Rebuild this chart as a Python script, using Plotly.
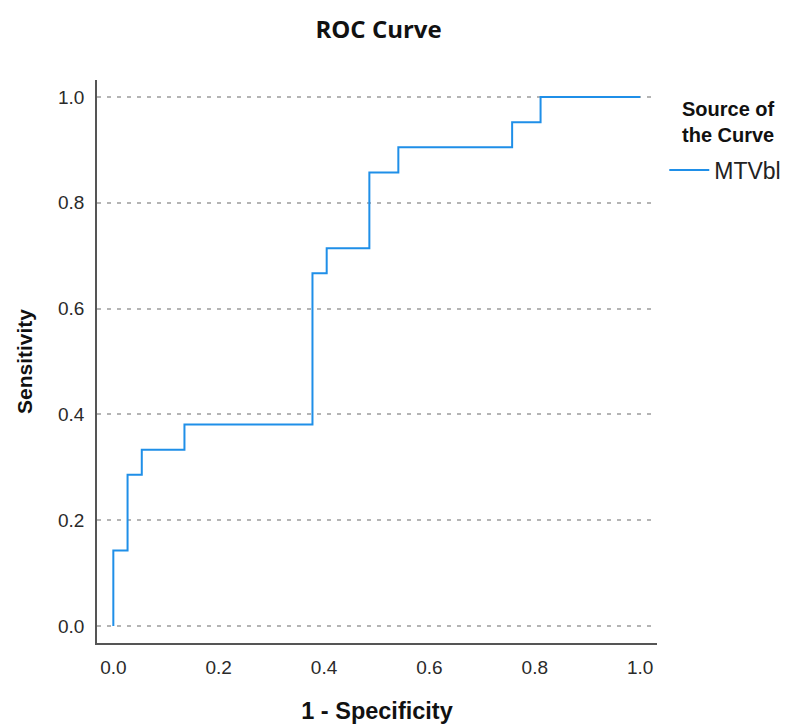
import plotly.graph_objects as go

# ROC curve corner points (1 - Specificity, Sensitivity)
fpr = [0.0, 0.0, 0.027, 0.054, 0.135, 0.378, 0.405, 0.486, 0.541, 0.757, 0.811, 1.0]
tpr = [0.0, 0.143, 0.286, 0.333, 0.381, 0.667, 0.714, 0.857, 0.905, 0.952, 1.0, 1.0]
series_name = "MTVbl"
tick_vals = [0.0, 0.2, 0.4, 0.6, 0.8, 1.0]
tick_text = ["0.0", "0.2", "0.4", "0.6", "0.8", "1.0"]

fig = go.Figure()
fig.add_trace(go.Scatter(
    x=fpr, y=tpr, mode="lines", line_shape="hv", name=series_name,
    line=dict(color="#1f8fe8", width=2),
))

axis_font = dict(family="Liberation Sans, Arial, sans-serif", size=19, color="#2a2a2a")

fig.update_layout(
    width=787, height=724,
    margin=dict(l=97, r=130, t=80, b=81, autoexpand=False),
    paper_bgcolor="white", plot_bgcolor="white",
    title=dict(text="<b>ROC Curve</b>", x=(97 + 657) / 2 / 787 + 0.002, xanchor="center",
               y=1 - 30 / 724, yanchor="middle",
               font=dict(family="Open Sans, sans-serif", size=24, color="#111111")),
    showlegend=True,
    legend=dict(x=1.013, xanchor="left", y=(643 - 170) / 563, yanchor="middle",
                font=dict(family="Liberation Sans, Arial, sans-serif", size=23, color="#222222"),
                bgcolor="rgba(0,0,0,0)", itemwidth=40),
    annotations=[dict(text="<b>Source of<br>the Curve</b>", xref="paper", yref="paper",
                      x=1 + (728 - 657) / 560, y=(643 - 122) / 563, xanchor="center", yanchor="middle",
                      showarrow=False, align="center",
                      font=dict(family="Liberation Sans, Arial, sans-serif", size=20, color="#111111"))],
)

fig.update_xaxes(
    range=[-0.031, 1.032], tickvals=tick_vals, ticktext=tick_text,
    showgrid=False, zeroline=False, showline=True, linecolor="#555555", linewidth=1.5,
    ticks="", tickfont=axis_font, ticklabelstandoff=6,
    title=dict(text="<b>1 - Specificity</b>", standoff=26,
               font=dict(family="Liberation Sans, Arial, sans-serif", size=23.5, color="#111111")),
)
fig.update_yaxes(
    range=[-0.032, 1.032], tickvals=tick_vals, ticktext=tick_text,
    showgrid=True, gridcolor="#b4b4b4", gridwidth=1.5, griddash="4px,6px",
    zeroline=False, showline=True, linecolor="#555555", linewidth=1.5,
    ticks="", tickfont=axis_font, ticklabelstandoff=7,
    title=dict(text="<b>Sensitivity</b>", standoff=20,
               font=dict(family="Liberation Sans, Arial, sans-serif", size=21, color="#111111")),
)

fig.write_html("out.html")
